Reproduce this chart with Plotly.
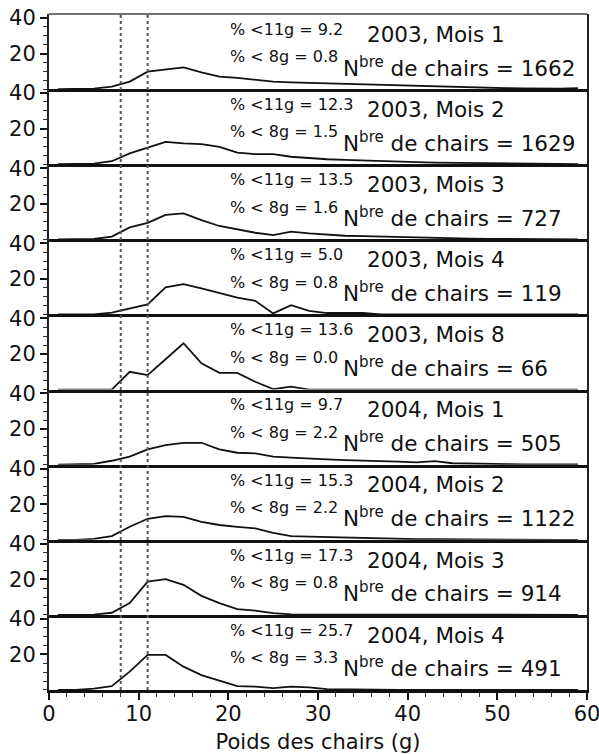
import plotly.graph_objects as go
from plotly.subplots import make_subplots

# Weight classes (bin centres, g)
poids = [1, 3, 5, 7, 9, 11, 13, 15, 17, 19, 21, 23, 25, 27, 29,
         31, 33, 35, 37, 39, 41, 43, 45, 47, 49, 51, 53, 55, 57, 59]

# Frequency (%) per weight class, one list per sampling period
freq_2003_m1 = [0, 0, 0.3, 1.4, 4.2, 9.8, 11.1, 12.2, 9.4, 7.0, 6.3, 5.2, 4.2, 3.8, 3.5,
                3.2, 2.8, 2.5, 2.3, 2.0, 1.6, 1.3, 1.0, 0.8, 0.6, 0.5, 0.4, 0.3, 0.2, 0.6]
freq_2003_m2 = [0, 0, 0.3, 1.7, 6.1, 9.3, 12.6, 11.7, 11.3, 9.8, 6.5, 5.7, 5.7, 4.2, 3.3,
                2.8, 2.4, 2.0, 1.8, 1.5, 1.2, 0.9, 0.8, 0.6, 0.5, 0.4, 0.3, 0.2, 0.1, 0.1]
freq_2003_m3 = [0, 0, 0.2, 1.5, 6.7, 9.3, 13.7, 14.6, 10.8, 7.5, 5.6, 3.7, 2.4, 4.3, 3.3,
                2.5, 2.0, 1.8, 1.5, 1.3, 1.0, 0.8, 0.5, 0.4, 0.3, 0.2, 0.1, 0.1, 0, 0]
freq_2003_m4 = [0, 0, 0, 1.0, 3.4, 5.6, 15.2, 17.0, 14.6, 12.2, 9.4, 7.7, 0.6, 5.2, 2.0,
                0.8, 0.8, 0.8, 0, 0, 0, 0, 0, 0, 0, 0, 0, 0, 0, 0]
freq_2003_m8 = [0, 0, 0, 0, 10.0, 8.1, 17.0, 26.0, 14.7, 9.4, 9.4, 4.4, 0.3, 1.6, 0,
                0, 0, 0, 0, 0, 0, 0, 0, 0, 0, 0, 0, 0, 0, 0]
freq_2004_m1 = [0, 0, 0.4, 2.2, 4.5, 8.6, 11.0, 12.3, 12.3, 8.6, 6.7, 6.3, 4.5, 3.9, 3.3,
                3.0, 2.6, 2.4, 2.0, 1.7, 1.3, 2.0, 0.8, 0.5, 0.4, 0.3, 0.2, 0.2, 0.1, 0.1]
freq_2004_m2 = [0, 0, 0.5, 2.1, 7.3, 11.8, 13.3, 12.9, 10.1, 8.3, 7.3, 6.4, 3.9, 2.1, 1.8,
                1.5, 1.2, 0.9, 0.7, 0.5, 0.3, 0.3, 0.2, 0.1, 0.1, 0, 0, 0, 0, 0]
freq_2004_m3 = [0, 0, 0.2, 1.2, 6.7, 18.7, 20.1, 16.9, 10.7, 6.6, 3.2, 2.4, 1.0, 0.3, 0.3,
                0.2, 0.1, 0.1, 0, 0, 0, 0, 0, 0, 0, 0, 0, 0, 0, 0]
freq_2004_m4 = [0, 0, 0.8, 2.2, 10.3, 19.7, 19.7, 13.1, 8.4, 5.2, 2.2, 1.9, 1.0, 1.9, 1.5,
                0.5, 0.3, 0, 0, 0, 0, 0, 0, 0, 0, 0, 0, 0, 0, 0]

periodes = ["2003, Mois 1", "2003, Mois 2", "2003, Mois 3", "2003, Mois 4", "2003, Mois 8",
            "2004, Mois 1", "2004, Mois 2", "2004, Mois 3", "2004, Mois 4"]
n_chairs = [1662, 1629, 727, 119, 66, 505, 1122, 914, 491]
pct_moins_11g = ["9.2", "12.3", "13.5", "5.0", "13.6", "9.7", "15.3", "17.3", "25.7"]
pct_moins_8g = ["0.8", "1.5", "1.6", "0.8", "0.0", "2.2", "2.2", "0.8", "3.3"]

seuils = [8, 11]
x_ticks = [0, 10, 20, 30, 40, 50, 60]
y_ticks = [20, 40]

series = [freq_2003_m1, freq_2003_m2, freq_2003_m3, freq_2003_m4, freq_2003_m8,
          freq_2004_m1, freq_2004_m2, freq_2004_m3, freq_2004_m4]

FONT = "DejaVu Sans"
INK = "#111111"
nrows = len(series)

fig = make_subplots(rows=nrows, cols=1, shared_xaxes=True, vertical_spacing=0)

for i, vals in enumerate(series):
    r = i + 1
    fig.add_trace(go.Scatter(x=poids, y=vals, mode="lines",
                             line=dict(color=INK, width=1.8), showlegend=False,
                             hoverinfo="skip", cliponaxis=False), row=r, col=1)
    fig.update_yaxes(range=[0, 42.2], tickvals=y_ticks, ticktext=[str(v) for v in y_ticks],
                     ticks="outside", ticklen=7, tickwidth=1.5, tickcolor=INK,
                     minor=dict(dtick=5, tick0=0, ticks="outside", ticklen=4,
                                tickwidth=1, tickcolor="#333"),
                     showline=True, linewidth=2, linecolor="#222222", mirror=True,
                     showgrid=False, zeroline=False, automargin=False,
                     tickfont=dict(family=FONT, size=21, color=INK),
                     row=r, col=1)
    last = r == nrows
    fig.update_xaxes(range=[0, 60], showline=True,
                     linewidth=2.5, linecolor=INK,
                     mirror=False, showgrid=False, zeroline=False, automargin=False,
                     tickvals=x_ticks if last else [],
                     ticks="outside" if last else "", ticklen=7, tickwidth=1.5,
                     tickcolor=INK, showticklabels=last, ticklabeloverflow="allow",
                     tickfont=dict(family=FONT, size=21, color=INK),
                     row=r, col=1)
    if last:
        fig.update_xaxes(minor=dict(dtick=2, tick0=0, ticks="outside", ticklen=4,
                                    tickwidth=1, tickcolor="#333"),
                         ticklabelstandoff=-4,
                         title=dict(text="Poids des chairs (g)",
                                    font=dict(family=FONT, size=21, color=INK),
                                    standoff=10),
                         row=r, col=1)

    yd = "y domain" if i == 0 else f"y{r} domain"
    xr = "x" if i == 0 else f"x{r}"
    fig.add_annotation(x=20, y=0.795, xref=xr, yref=yd, xanchor="left", yanchor="middle",
                       text=f"% <11g = {pct_moins_11g[i]}", showarrow=False,
                       font=dict(family=FONT, size=16, color=INK))
    fig.add_annotation(x=20, y=0.43, xref=xr, yref=yd, xanchor="left", yanchor="middle",
                       text=f"% < 8g = {pct_moins_8g[i]}", showarrow=False,
                       font=dict(family=FONT, size=16, color=INK))
    fig.add_annotation(x=35.2, y=0.73, xref=xr, yref=yd, xanchor="left", yanchor="middle",
                       text=periodes[i], showarrow=False,
                       font=dict(family=FONT, size=21.5, color=INK))
    fig.add_annotation(x=32.6, y=0.30, xref=xr, yref=yd, xanchor="left", yanchor="middle",
                       text=f"N<sup>bre</sup> de chairs = {n_chairs[i]}", showarrow=False,
                       font=dict(family=FONT, size=21.5, color=INK))

# Dotted threshold lines at 8 g and 11 g across all panels
for s in seuils:
    fig.add_shape(type="line", x0=s, x1=s, y0=0, y1=1, xref="x", yref="paper",
                  line=dict(color="#555555", width=2, dash="dot"))

# Thin upper frame of the top panel
fig.add_shape(type="line", x0=0, x1=1, y0=1, y1=1, xref="paper", yref="paper",
              line=dict(color="#444444", width=1.5))

fig.update_layout(width=599, height=754, margin=dict(l=49, r=12, t=14, b=64),
                  paper_bgcolor="white", plot_bgcolor="rgba(0,0,0,0)",
                  font=dict(family=FONT, color=INK))

fig.write_html("out.html")
